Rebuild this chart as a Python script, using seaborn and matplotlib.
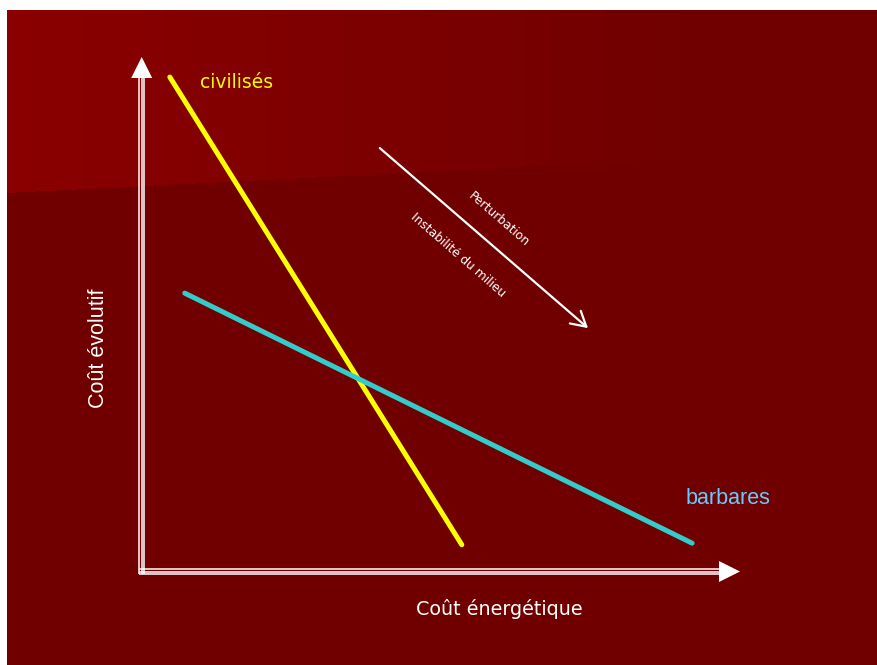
import numpy as np
import matplotlib
matplotlib.use("Agg")
import matplotlib.pyplot as plt
import seaborn as sns

# --- data (chart units: both axes run 0..100 from origin to arrow tip) ---
civilises_x = [4.7, 53.5]
civilises_y = [96.1, 5.2]
barbares_x = [7.2, 92.0]
barbares_y = [54.1, 5.5]
perturb_start = (39.8, 82.3)
perturb_end = (74.6, 47.3)

x_label = "Coût énergétique"
y_label = "Coût évolutif"
label_civilises = "civilisés"
label_barbares = "barbares"
label_perturb = "Perturbation"
label_instab = "Instabilité du milieu"

# --- layout (pixels) ---
W, H = 877, 665
ORIGIN_PX = (141.7, 571.5)
TIP_PX = (740.0, 57.0)
PX_X = (TIP_PX[0] - ORIGIN_PX[0]) / 100
PX_Y = (ORIGIN_PX[1] - TIP_PX[1]) / 100

sns.set_style("white")
fig = plt.figure(figsize=(W / 100, H / 100), dpi=100, facecolor="white")

# background: dark red slide with lighter slanted band on top
bg = fig.add_axes([0, 0, 1, 1])
bg.set_xlim(0, W)
bg.set_ylim(H, 0)
bg.axis("off")
xx, yy = np.meshgrid(np.arange(7, W) + 0.5, np.arange(10, H) + 0.5)
band = yy < 193 - 0.05 * (xx - 7)
red_top = np.clip(139 - (xx - 7) * 27 / 700, 112, 139)
red = np.where(band, red_top, 112) / 255
img = np.dstack([red, np.zeros_like(red), np.zeros_like(red)])
bg.imshow(img, extent=(7, W, H, 10), interpolation="nearest", aspect="auto")

# chart axes in chart units
ax = fig.add_axes([0, 0, 1, 1])
ax.patch.set_alpha(0)
ax.set_xlim(-ORIGIN_PX[0] / PX_X, (W - ORIGIN_PX[0]) / PX_X)
ax.set_ylim((ORIGIN_PX[1] - H) / PX_Y, ORIGIN_PX[1] / PX_Y)
ax.axis("off")

# triple-line axes with filled arrow heads
head = 21.0
off_x = 2.3 / PX_X
off_y = 2.3 / PX_Y
x_end = 100 - head / PX_X
y_end = 100 - head / PX_Y
for k in (-1, 0, 1):
    ax.plot([k * off_x, k * off_x], [-off_y, y_end], color="white", lw=1.1,
            solid_capstyle="butt")
    ax.plot([-off_x, x_end], [k * off_y, k * off_y], color="white", lw=1.1,
            solid_capstyle="butt")
head_style = "-|>,head_length=1.0,head_width=0.5"
ax.annotate("", xy=(0, 100), xytext=(0, y_end),
            arrowprops=dict(arrowstyle=head_style, mutation_scale=head * 0.72,
                            color="white", lw=0, shrinkA=0, shrinkB=0))
ax.annotate("", xy=(100, 0), xytext=(x_end, 0),
            arrowprops=dict(arrowstyle=head_style, mutation_scale=head * 0.72,
                            color="white", lw=0, shrinkA=0, shrinkB=0))

# the two curves
sns.lineplot(x=civilises_x, y=civilises_y, color="#FFFF00", lw=3.6, sort=False, ax=ax)
sns.lineplot(x=barbares_x, y=barbares_y, color="#33CCCC", lw=3.6, sort=False, ax=ax)

# perturbation arrow
ax.annotate("", xy=perturb_end, xytext=perturb_start,
            arrowprops=dict(arrowstyle="->,head_length=0.7,head_width=0.4",
                            mutation_scale=15, color="white", lw=1.6,
                            shrinkA=0, shrinkB=0))

# texts
ax.text(15.9, 95.1, label_civilises, color="#FFFF00", fontsize=13.5,
        family="DejaVu Sans", ha="center", va="center")
ax.text(98.0, 14.1, label_barbares, color="#66CCFF", fontsize=15.5,
        family="Liberation Sans", ha="center", va="center")
ax.text(-7.3, 43.4, y_label, color="white", fontsize=15.5, rotation=90,
        family="Liberation Sans", ha="center", va="center")
ax.text(59.7, -7.3, x_label, color="white", fontsize=13.8,
        family="DejaVu Sans", ha="center", va="center")
ax.text(59.6, 68.5, label_perturb, color="white", fontsize=8.8, rotation=-41,
        rotation_mode="anchor", family="DejaVu Sans", ha="center", va="center")
ax.text(52.9, 61.5, label_instab, color="white", fontsize=8.8, rotation=-41,
        rotation_mode="anchor", family="DejaVu Sans", ha="center", va="center")

fig.savefig("out.png", dpi=100, facecolor="white")
